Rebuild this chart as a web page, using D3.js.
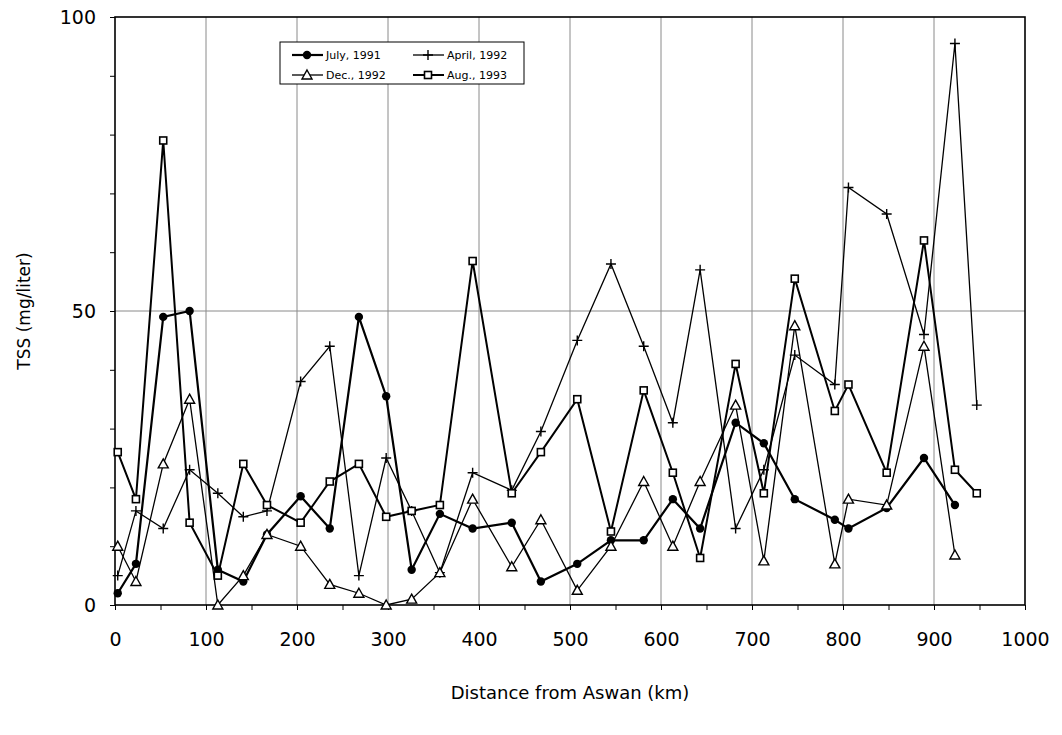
<!DOCTYPE html>
<html>
<head>
<meta charset="utf-8">
<script src="https://cdn.jsdelivr.net/npm/d3@7"></script>
<style>
  body { margin: 0; background: #fff; }
  text { font-family: "DejaVu Sans", Verdana, sans-serif; fill: #000; }
</style>
</head>
<body>
<div id="chart"></div>
<script>
// station distances (km from Aswan) and TSS values (mg/liter)
var julyKm  = [3, 23, 53, 82, 113, 141, 167, 204, 236, 268, 298, 326, 357, 393, 436, 468, 508, 545, 581, 613, 643, 682, 713, 747, 791, 806, 848, 889, 923];
var julyTss = [2, 7, 49, 50, 6, 4, 12, 18.5, 13, 49, 35.5, 6, 15.5, 13, 14, 4, 7, 11, 11, 18, 13, 31, 27.5, 18, 14.5, 13, 16.5, 25, 17];

var aprilKm  = [3, 23, 53, 82, 113, 141, 167, 204, 236, 268, 298, 326, 357, 393, 436, 468, 508, 545, 581, 613, 643, 682, 713, 747, 791, 806, 848, 889, 923, 947];
var aprilTss = [5, 16, 13, 23, 19, 15, 16, 38, 44, 5, 25, 16, 5.5, 22.5, 19.5, 29.5, 45, 58, 44, 31, 57, 13, 23, 42.5, 37.5, 71, 66.5, 46, 95.5, 34];

var decKm  = [3, 23, 53, 82, 113, 141, 167, 204, 236, 268, 298, 326, 357, 393, 436, 468, 508, 545, 581, 613, 643, 682, 713, 747, 791, 806, 848, 889, 923];
var decTss = [10, 4, 24, 35, 0, 5, 12, 10, 3.5, 2, 0, 1, 5.5, 18, 6.5, 14.5, 2.5, 10, 21, 10, 21, 34, 7.5, 47.5, 7, 18, 17, 44, 8.5];

var augKm  = [3, 23, 53, 82, 113, 141, 167, 204, 236, 268, 298, 326, 357, 393, 436, 468, 508, 545, 581, 613, 643, 682, 713, 747, 791, 806, 848, 889, 923, 947];
var augTss = [26, 18, 79, 14, 5, 24, 17, 14, 21, 24, 15, 16, 17, 58.5, 19, 26, 35, 12.5, 36.5, 22.5, 8, 41, 19, 55.5, 33, 37.5, 22.5, 62, 23, 19];

var seriesNames = ["July, 1991", "April, 1992", "Dec., 1992", "Aug., 1993"];
var xTicks = [0, 100, 200, 300, 400, 500, 600, 700, 800, 900, 1000];
var yTicks = [0, 50, 100];

var svg = d3.select("#chart").append("svg")
  .attr("width", 1062)
  .attr("height", 735);

var x = d3.scaleLinear().domain([0, 1000]).range([115, 1025]);
var y = d3.scaleLinear().domain([0, 100]).range([605, 17]);

function zip(ks, vs) {
  return ks.map(function(k, i) { return {km: k, v: vs[i]}; });
}

var series = [
  {name: seriesNames[0], data: zip(julyKm, julyTss), mark: "circle", width: 2.2},
  {name: seriesNames[1], data: zip(aprilKm, aprilTss), mark: "plus", width: 1.3},
  {name: seriesNames[2], data: zip(decKm, decTss), mark: "triangle", width: 1.3},
  {name: seriesNames[3], data: zip(augKm, augTss), mark: "square", width: 2}
];

// gridlines
svg.append("g").selectAll("line.vg")
  .data(xTicks.slice(1, -1))
  .enter().append("line")
  .attr("x1", d => x(d)).attr("x2", d => x(d))
  .attr("y1", y(100)).attr("y2", y(0))
  .attr("stroke", "#8a8a8a").attr("stroke-width", 1);

svg.append("line")
  .attr("x1", x(0)).attr("x2", x(1000))
  .attr("y1", y(50)).attr("y2", y(50))
  .attr("stroke", "#8a8a8a").attr("stroke-width", 1);

// axes with minor ticks
var xAxis = d3.axisBottom(x)
  .tickValues(d3.range(0, 1001, 50))
  .tickSize(5)
  .tickPadding(23)
  .tickFormat(d => d % 100 === 0 ? d : "");

svg.append("g")
  .attr("transform", `translate(0, ${y(0)})`)
  .call(xAxis)
  .call(g => g.select(".domain").remove())
  .call(g => g.selectAll("text").style("font-size", "19px"));

var yAxis = d3.axisLeft(y)
  .tickValues(d3.range(0, 101, 10))
  .tickSize(5)
  .tickPadding(14)
  .tickFormat(d => yTicks.indexOf(d) >= 0 ? d : "");

svg.append("g")
  .attr("transform", `translate(${x(0)}, 0)`)
  .call(yAxis)
  .call(g => g.select(".domain").remove())
  .call(g => g.selectAll("text").style("font-size", "19px"));

// frame
svg.append("rect")
  .attr("x", x(0)).attr("y", y(100))
  .attr("width", x(1000) - x(0)).attr("height", y(0) - y(100))
  .attr("fill", "none").attr("stroke", "#000").attr("stroke-width", 1.6);

// lines
var line = d3.line().x(d => x(d.km)).y(d => y(d.v));

svg.append("g").selectAll("path.series")
  .data(series)
  .enter().append("path")
  .attr("d", d => line(d.data))
  .attr("fill", "none")
  .attr("stroke", "#000")
  .attr("stroke-width", d => d.width);

function drawMark(g, type, cx, cy) {
  if (type === "circle") {
    g.append("circle").attr("cx", cx).attr("cy", cy).attr("r", 4.2).attr("fill", "#000");
  } else if (type === "plus") {
    g.append("path")
      .attr("d", `M${cx - 5},${cy}H${cx + 5}M${cx},${cy - 5}V${cy + 5}`)
      .attr("stroke", "#000").attr("stroke-width", 1.4);
  } else if (type === "triangle") {
    g.append("path")
      .attr("d", `M${cx},${cy - 5}L${cx + 5},${cy + 4}L${cx - 5},${cy + 4}Z`)
      .attr("fill", "#fff").attr("stroke", "#000").attr("stroke-width", 1.4);
  } else {
    g.append("rect")
      .attr("x", cx - 3.5).attr("y", cy - 3.5).attr("width", 7).attr("height", 7)
      .attr("fill", "#fff").attr("stroke", "#000").attr("stroke-width", 1.6);
  }
}

var marks = svg.append("g");
series.forEach(function(s) {
  s.data.forEach(function(d) {
    drawMark(marks, s.mark, x(d.km), y(d.v));
  });
});

// legend
var legend = svg.append("g");
legend.append("rect")
  .attr("x", 280).attr("y", 42).attr("width", 244).attr("height", 42)
  .attr("fill", "#fff").attr("stroke", "#000").attr("stroke-width", 1);

var legendPos = [[292, 55], [413, 55], [292, 75], [413, 75]];
[0, 1, 2, 3].forEach(function(i) {
  var s = series[i], p = legendPos[i];
  legend.append("line")
    .attr("x1", p[0]).attr("x2", p[0] + 31)
    .attr("y1", p[1]).attr("y2", p[1])
    .attr("stroke", "#000").attr("stroke-width", s.width);
  drawMark(legend, s.mark, p[0] + 15, p[1]);
  legend.append("text")
    .attr("x", p[0] + 34).attr("y", p[1] + 4)
    .style("font-size", "11px")
    .text(s.name);
});

// axis titles
svg.append("text")
  .attr("transform", `translate(30, ${y(50)}) rotate(-90)`)
  .attr("text-anchor", "middle")
  .style("font-size", "17px")
  .text("TSS (mg/liter)");

svg.append("text")
  .attr("x", 570).attr("y", 699)
  .attr("text-anchor", "middle")
  .style("font-size", "18px")
  .text("Distance from Aswan (km)");
</script>
</body>
</html>
